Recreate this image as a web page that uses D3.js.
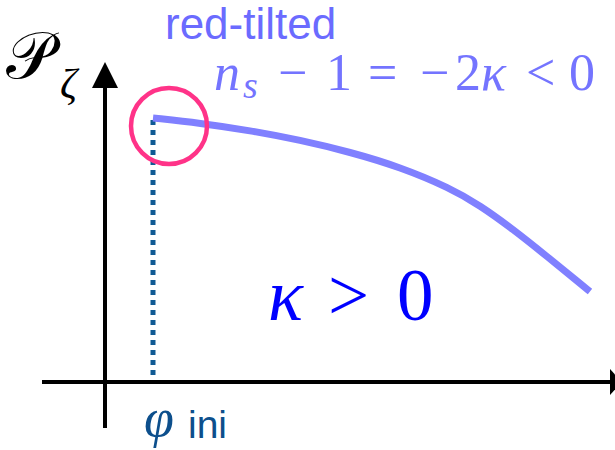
<!DOCTYPE html>
<html>
<head>
<meta charset="utf-8">
<script src="https://cdn.jsdelivr.net/npm/d3@7"></script>
<style>
  body { margin: 0; background: #fff; }
  svg { display: block; }
  .sans { font-family: "Liberation Sans", Arial, sans-serif; }
  .math { font-family: "Liberation Serif", "DejaVu Serif", serif; }
</style>
</head>
<body>
<script>
// curve of the power spectrum
const phi = [0.48, 0.95, 1.45, 1.95, 2.45, 2.95, 3.45, 3.75, 4.08, 4.42, 4.75, 4.85];
const power = [2.64, 2.59, 2.515, 2.42, 2.30, 2.15, 1.94, 1.766, 1.528, 1.256, 0.985, 0.905];
const phiIni = 0.48;

const width = 615, height = 450;

const x = d3.scaleLinear().domain([0, 5]).range([105, 605]);
const y = d3.scaleLinear().domain([0, 3]).range([382, 82]);

const svg = d3.select("body").append("svg")
  .attr("width", width)
  .attr("height", height);

// axes
const axisColor = "#000";
svg.append("line")
  .attr("x1", x(-0.63)).attr("x2", x(5.06))
  .attr("y1", y(0)).attr("y2", y(0))
  .attr("stroke", axisColor).attr("stroke-width", 4);
svg.append("line")
  .attr("x1", x(0)).attr("x2", x(0))
  .attr("y1", y(-0.46)).attr("y2", y(2.98))
  .attr("stroke", axisColor).attr("stroke-width", 4);

// arrow heads
const ax = x(0), ay = y(0);
svg.append("path")
  .attr("d", `M${ax},${y(3.2)} L${ax - 13},${y(2.94)} L${ax + 13},${y(2.94)} Z`)
  .attr("fill", axisColor);
svg.append("path")
  .attr("d", `M${x(5.17)},${ay} L${x(5.05)},${ay - 13} L${x(5.05)},${ay + 13} Z`)
  .attr("fill", axisColor);

// dotted line at phi_ini
svg.append("line")
  .attr("x1", x(phiIni)).attr("x2", x(phiIni))
  .attr("y1", y(power[0]) + 2).attr("y2", y(0) - 2)
  .attr("stroke", "#0f5a94").attr("stroke-width", 5)
  .attr("stroke-dasharray", "5,5");

// curve
const line = d3.line()
  .x((d, i) => x(phi[i]))
  .y(d => y(d))
  .curve(d3.curveBasis);

svg.append("path")
  .datum(power)
  .attr("d", line)
  .attr("fill", "none")
  .attr("stroke", "#8080ff")
  .attr("stroke-width", 7);

// highlight circle
svg.append("circle")
  .attr("cx", x(phiIni + 0.16))
  .attr("cy", y(2.56))
  .attr("r", 38)
  .attr("fill", "none")
  .attr("stroke", "#ff3388")
  .attr("stroke-width", 4.5);

// labels
svg.append("text")
  .attr("class", "sans")
  .attr("x", 165).attr("y", 39)
  .attr("font-size", 44)
  .attr("fill", "#6b6bff")
  .text("red-tilted");

// n_s - 1 = -2κ < 0, glyphs placed like TeX math spacing
const eqParts = [
  {t: "n", x: 214, it: true},
  {t: "s", x: 243, it: true, sub: true},
  {t: "\u2212", x: 278},
  {t: "1", x: 326},
  {t: "=", x: 368},
  {t: "\u2212", x: 420},
  {t: "2", x: 455},
  {t: "\u03BA", x: 481, it: true},
  {t: "<", x: 526},
  {t: "0", x: 569}
];
const eq = svg.append("text")
  .attr("class", "math")
  .attr("y", 90)
  .attr("font-size", 52)
  .attr("fill", "#7474ff");
eq.selectAll("tspan")
  .data(eqParts)
  .join("tspan")
  .attr("x", d => d.x)
  .attr("y", d => d.sub ? 98 : 90)
  .attr("font-size", d => d.sub ? 38 : null)
  .attr("font-style", d => d.it ? "italic" : null)
  .text(d => d.t);

const kapParts = [
  {t: "\u03BA", x: 268, it: true},
  {t: ">", x: 328},
  {t: "0", x: 397}
];
svg.append("text")
  .attr("class", "math")
  .attr("y", 320)
  .attr("font-size", 73)
  .attr("fill", "#0000ff")
  .selectAll("tspan")
  .data(kapParts)
  .join("tspan")
  .attr("x", d => d.x)
  .attr("font-style", d => d.it ? "italic" : null)
  .text(d => d.t);

const pz = svg.append("text")
  .attr("class", "math")
  .attr("fill", "#000");
pz.append("tspan").attr("x", 6).attr("y", 78).attr("font-size", 66).text("\uD835\uDCAB");
pz.append("tspan").attr("x", 60).attr("y", 98).attr("font-style", "italic").attr("font-size", 42).text("\u03B6");

const pi = svg.append("text")
  .attr("fill", "#0d4f8c");
pi.append("tspan").attr("class", "math").attr("x", 144).attr("y", 436).attr("font-style", "italic").attr("font-size", 54).text("\u03C6");
pi.append("tspan").attr("class", "sans").attr("x", 188).attr("y", 438).attr("font-size", 39).text("ini");
</script>
</body>
</html>
